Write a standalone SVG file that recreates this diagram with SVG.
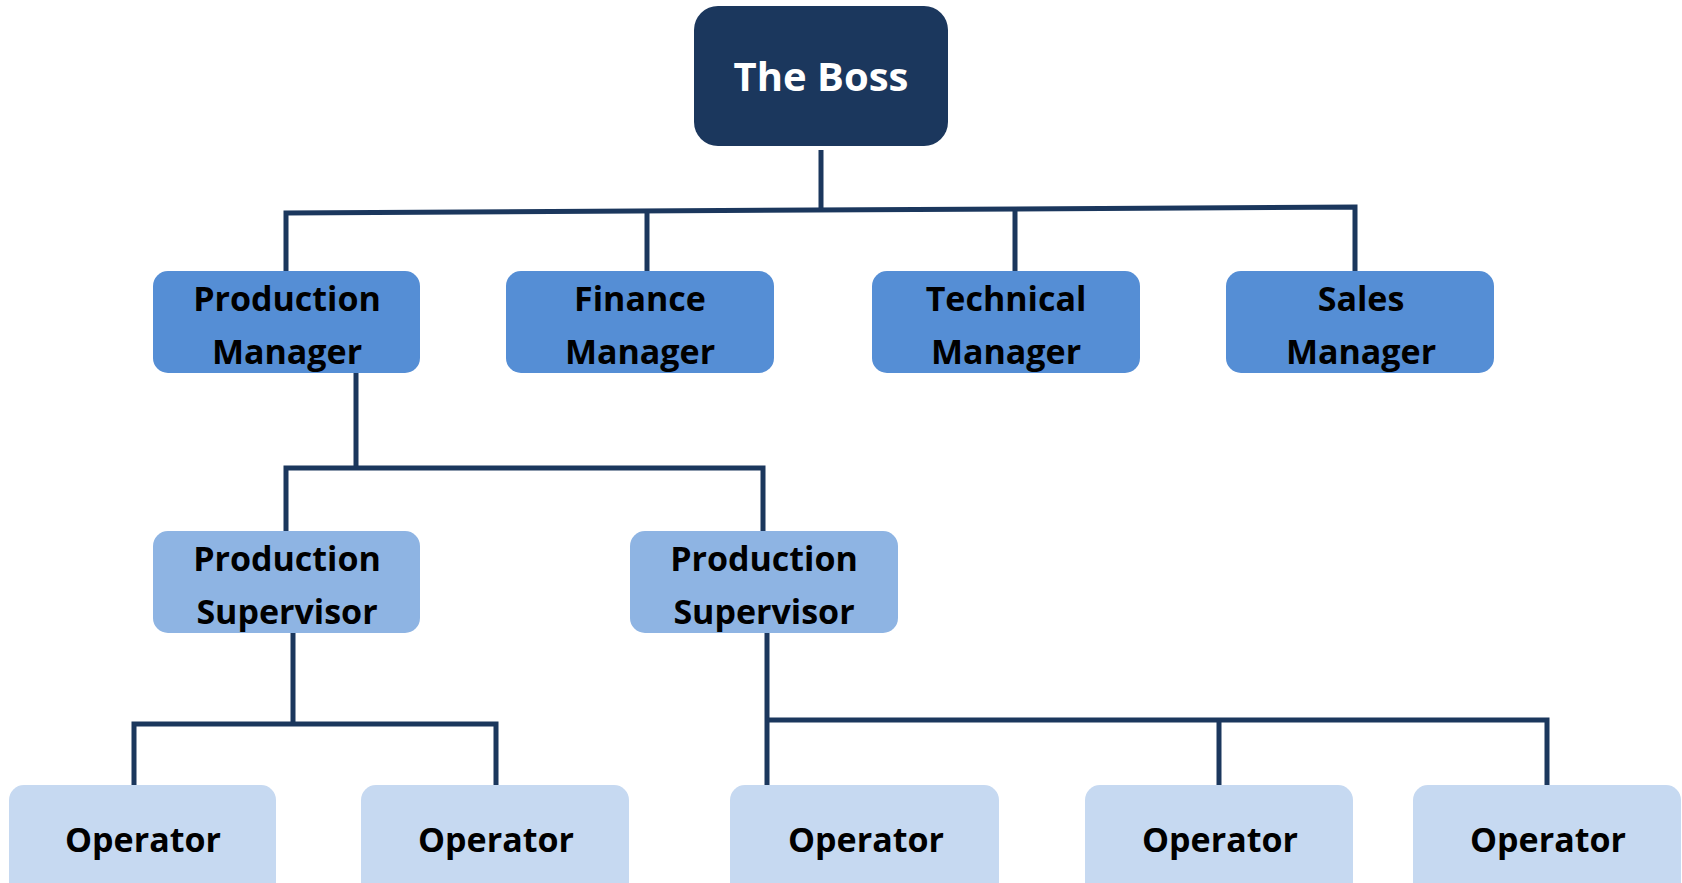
<svg xmlns="http://www.w3.org/2000/svg" width="1682" height="883" viewBox="0 0 1682 883">
<style>
.t{font-family:"Open Sans","Liberation Sans",sans-serif;font-weight:700;font-size:34px;fill:#000;text-anchor:middle}
.boss{fill:#1b375d}
.mgr{fill:#558ed5}
.sup{fill:#8eb4e3}
.op{fill:#c6d9f1}
.c{fill:none;stroke:#1b375d;stroke-width:5}
</style>
<rect width="1682" height="883" fill="#fff"/>
<g id="connectors">
<path class="c" d="M821 150V211"/>
<path class="c" d="M286 276V213L1355 207V276"/>
<path class="c" d="M647 212V276"/>
<path class="c" d="M1015 209V276"/>
<path class="c" d="M356 373V468"/>
<path class="c" d="M286 533V468H763V533"/>
<path class="c" d="M293 633V724"/>
<path class="c" d="M134 788V724H496V788"/>
<path class="c" d="M767 633V786"/>
<path class="c" d="M767 720H1547V788"/>
<path class="c" d="M1219 720V786"/>
</g>
<g id="boss"><rect class="boss" x="694" y="6" width="254" height="140" rx="24"/><text class="t" x="821" y="91" style="fill:#fff;font-size:40px">The Boss</text></g>
<g id="production-manager"><rect class="mgr" x="153" y="271" width="267" height="102" rx="15"/><text class="t" x="287" y="311">Production</text><text class="t" x="287" y="364">Manager</text></g>
<g id="finance-manager"><rect class="mgr" x="506" y="271" width="268" height="102" rx="15"/><text class="t" x="640" y="311">Finance</text><text class="t" x="640" y="364">Manager</text></g>
<g id="technical-manager"><rect class="mgr" x="872" y="271" width="268" height="102" rx="15"/><text class="t" x="1006" y="311">Technical</text><text class="t" x="1006" y="364">Manager</text></g>
<g id="sales-manager"><rect class="mgr" x="1226" y="271" width="268" height="102" rx="15"/><text class="t" x="1361" y="311">Sales</text><text class="t" x="1361" y="364">Manager</text></g>
<g id="production-supervisor-1"><rect class="sup" x="153" y="531" width="267" height="102" rx="15"/><text class="t" x="287" y="571">Production</text><text class="t" x="287" y="624">Supervisor</text></g>
<g id="production-supervisor-2"><rect class="sup" x="630" y="531" width="268" height="102" rx="15"/><text class="t" x="764" y="571">Production</text><text class="t" x="764" y="624">Supervisor</text></g>
<g id="operator-1"><rect class="op" x="9" y="785" width="267" height="120" rx="15"/><text class="t" x="143" y="852">Operator</text></g>
<g id="operator-2"><rect class="op" x="361" y="785" width="268" height="120" rx="15"/><text class="t" x="496" y="852">Operator</text></g>
<g id="operator-3"><rect class="op" x="730" y="785" width="269" height="120" rx="15"/><text class="t" x="866" y="852">Operator</text></g>
<g id="operator-4"><rect class="op" x="1085" y="785" width="268" height="120" rx="15"/><text class="t" x="1220" y="852">Operator</text></g>
<g id="operator-5"><rect class="op" x="1413" y="785" width="268" height="120" rx="15"/><text class="t" x="1548" y="852">Operator</text></g>
</svg>
